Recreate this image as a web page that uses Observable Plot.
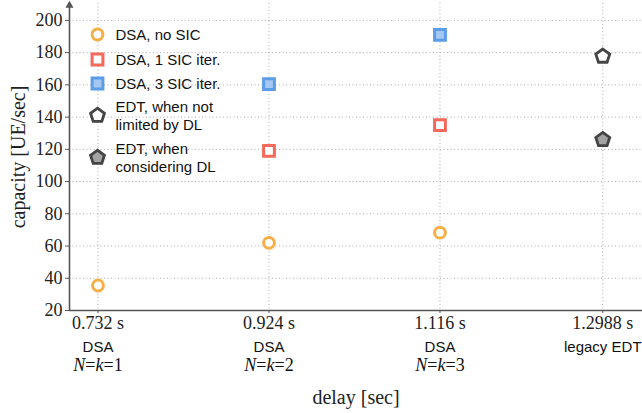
<!DOCTYPE html>
<html><head><meta charset="utf-8">
<script src="https://cdn.jsdelivr.net/npm/d3@7"></script>
<script src="https://cdn.jsdelivr.net/npm/@observablehq/plot@0.6"></script>
<style>body{margin:0;background:#fff}</style>
</head><body><div id="chart"></div>
<script>
// ---- data ----
const delays = [0.732, 0.924, 1.116, 1.2988];
const schemeNames = ["DSA", "DSA", "DSA", "legacy EDT"];
const schemeParams = ["N=k=1", "N=k=2", "N=k=3", ""];
const yTicks = [20, 40, 60, 80, 100, 120, 140, 160, 180, 200];

const noSicDelay = [0.732, 0.924, 1.116];
const noSicCap = [35.5, 62, 68.3];
const sic1Delay = [0.924, 1.116];
const sic1Cap = [119, 135];
const sic3Delay = [0.924, 1.116];
const sic3Cap = [160.5, 191];
const edtDelay = [1.2988];
const edtNoDlCap = [177.7];
const edtDlCap = [126];

const legendLabels = ["DSA, no SIC", "DSA, 1 SIC iter.", "DSA, 3 SIC iter.",
  "EDT, when not\nlimited by DL", "EDT, when\nconsidering DL"];

// ---- chart ----
const xDomain = [0.7, 1.3434];
const yDomain = [20, 210.5];
const serif = "Liberation Serif";
const sans = "Liberation Sans";
const axisColor = "#555";

const pentagon = {
  draw(ctx, size) {
    const R = Math.sqrt(size / Math.PI);
    for (let k = 0; k < 5; k++) {
      const a = -Math.PI / 2 + k * 2 * Math.PI / 5;
      const px = R * Math.cos(a), py = R * Math.sin(a);
      if (k === 0) ctx.moveTo(px, py); else ctx.lineTo(px, py);
    }
    ctx.closePath();
  }
};

const styles = [
  {symbol: "circle", r: 5.4, stroke: "#F6AE45", fill: "white", strokeWidth: 3},
  {symbol: "square", r: 6.1, stroke: "#F4695A", fill: "white", strokeWidth: 3},
  {symbol: "square", r: 6.1, stroke: "#5C9DE8", fill: "#A5C8F2", strokeWidth: 3},
  {symbol: pentagon, r: 7.3, stroke: "#444", fill: "white", strokeWidth: 2.8},
  {symbol: pentagon, r: 7.3, stroke: "#444", fill: "#a3a3a3", strokeWidth: 2.8}
];
const series = [
  [noSicDelay, noSicCap], [sic1Delay, sic1Cap], [sic3Delay, sic3Cap],
  [edtDelay, edtNoDlCap], [edtDelay, edtDlCap]
];
const legendRowsDy = [31, 56, 80, 112, 154];

const dataMarks = series.map(([xs, ys], s) =>
  Plot.dot(xs, {x: (d) => d, y: (d, i) => ys[i], ...styles[s]}));

const legendMarks = legendLabels.flatMap((lab, s) => [
  Plot.dot([lab], {frameAnchor: "top-left", dx: 28, dy: legendRowsDy[s], ...styles[s]}),
  Plot.text([lab], {text: (d) => d, frameAnchor: "top-left", dx: 46, dy: legendRowsDy[s],
    textAnchor: "start", lineAnchor: "middle", lineHeight: 1.2,
    fontFamily: sans, fontSize: 15, fill: "#111"})
]);

const chart = Plot.plot({
  width: 642, height: 413,
  marginLeft: 69, marginRight: 0, marginTop: 3, marginBottom: 103,
  style: {fontFamily: serif, fontSize: "18px", color: "#222", background: "white", overflow: "visible"},
  x: {domain: xDomain},
  y: {domain: yDomain},
  marks: [
    Plot.gridY(yTicks, {stroke: "#999", strokeOpacity: 0.8, strokeDasharray: "1,2.5"}),
    Plot.gridX(delays, {stroke: "#999", strokeOpacity: 0.8, strokeDasharray: "1,2.5"}),
    Plot.axisY(yTicks, {tickSize: 4, tickPadding: 3, stroke: axisColor, fontSize: 18,
      label: "capacity [UE/sec]", labelAnchor: "center", labelArrow: "none", labelOffset: 59, fontFamily: serif}),
    Plot.axisX(delays, {tickSize: 3, tickPadding: 3, stroke: axisColor, fontSize: 18,
      tickFormat: (d) => `${d} s`,
      label: "delay [sec]", labelAnchor: "center", labelArrow: "none", labelOffset: 93, fontFamily: serif}),
    Plot.ruleY([yDomain[0]], {stroke: axisColor, strokeWidth: 1.6}),
    Plot.ruleX([xDomain[0]], {stroke: axisColor, strokeWidth: 1.6}),
    Plot.dot([yDomain[1]], {x: xDomain[0], y: (d) => d, symbol: "triangle", r: 3, fill: axisColor, dy: 2}),
    Plot.text(schemeNames, {x: (d, i) => delays[i], text: (d) => d, frameAnchor: "bottom", dy: 41,
      fontFamily: sans, fontSize: 15, fill: "#111"}),
    Plot.text(schemeParams, {x: (d, i) => delays[i], text: (d) => d, frameAnchor: "bottom", dy: 60,
      fontFamily: serif, fontSize: 18, fill: "#111", className: "nk"}),
    ...dataMarks,
    ...legendMarks
  ]
});

// math-style italics for N and k
d3.select(chart).selectAll(".nk text").each(function () {
  const t = this.textContent;
  if (!t) return;
  const sel = d3.select(this);
  sel.text(null);
  for (const ch of t) {
    const ts = sel.append("tspan").text(ch);
    if (ch === "N" || ch === "k") ts.attr("font-style", "italic");
  }
});
// Axis label fonts larger
d3.select(chart).selectAll("text").filter(function () {
  return this.textContent === "capacity [UE/sec]" || this.textContent === "delay [sec]";
}).attr("font-size", 20);

document.getElementById("chart").append(chart);
</script>
</body></html>
